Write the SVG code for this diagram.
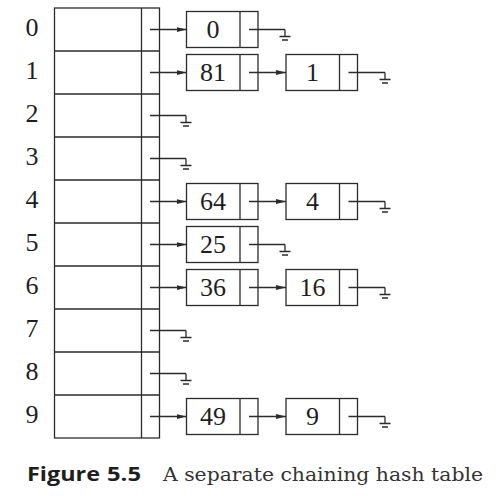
<svg xmlns="http://www.w3.org/2000/svg" xmlns:xlink="http://www.w3.org/1999/xlink" width="497" height="496" viewBox="0 0 497 496">
<style>
.ln{stroke:#2b2b2b;stroke-width:1.3;fill:none}
.bx{stroke:#2b2b2b;stroke-width:1.3;fill:#fff}
.t{font-family:"Liberation Serif","Times New Roman",serif;font-size:26px;fill:#1e1e1e;text-anchor:middle}
.cap1{font-family:"Open Sans","Liberation Sans",Arial,sans-serif;font-weight:bold;font-size:19px;fill:#1e1e1e}
.cap2{font-family:"DejaVu Serif",serif;font-size:18px;fill:#333}
</style>
<defs>
<marker id="ah" viewBox="0 0 10 6" refX="10" refY="3" markerWidth="10" markerHeight="6" markerUnits="userSpaceOnUse" orient="auto">
<path d="M0,0.5 L10,3 L0,5.5 Z" fill="#2b2b2b"/>
</marker>
<path id="gnd" d="M0,0 V7 M-5.5,7 H5.5 M-3,10.5 H3" stroke="#2b2b2b" stroke-width="1.3" fill="none"/>
</defs>

<g id="table">
<rect class="bx" x="54.5" y="8" width="105" height="430"/>
<path class="ln" d="M141.5,8 V438 M54.5,51 H159.5 M54.5,94 H159.5 M54.5,137 H159.5 M54.5,180 H159.5 M54.5,223 H159.5 M54.5,266 H159.5 M54.5,309 H159.5 M54.5,352 H159.5 M54.5,395 H159.5"/>
</g>

<g id="labels">
<text class="t" x="32" y="36">0</text>
<text class="t" x="32" y="79">1</text>
<text class="t" x="32" y="122">2</text>
<text class="t" x="32" y="165">3</text>
<text class="t" x="32" y="208">4</text>
<text class="t" x="32" y="251">5</text>
<text class="t" x="32" y="294">6</text>
<text class="t" x="32" y="337">7</text>
<text class="t" x="32" y="380">8</text>
<text class="t" x="32" y="423">9</text>
</g>

<g id="node-0">
<rect class="bx" x="186.5" y="11.5" width="71.5" height="36"/>
<path class="ln" d="M240,11.5 V47.5"/>
<text class="t" x="213" y="38">0</text>
</g>
<g id="node-81">
<rect class="bx" x="186.5" y="54.5" width="71.5" height="36"/>
<path class="ln" d="M240,54.5 V90.5"/>
<text class="t" x="213" y="81">81</text>
</g>
<g id="node-1">
<rect class="bx" x="286" y="54.5" width="71.5" height="36"/>
<path class="ln" d="M339.5,54.5 V90.5"/>
<text class="t" x="312.5" y="81">1</text>
</g>
<g id="node-64">
<rect class="bx" x="186.5" y="183.5" width="71.5" height="36"/>
<path class="ln" d="M240,183.5 V219.5"/>
<text class="t" x="213" y="210">64</text>
</g>
<g id="node-4">
<rect class="bx" x="286" y="183.5" width="71.5" height="36"/>
<path class="ln" d="M339.5,183.5 V219.5"/>
<text class="t" x="312.5" y="210">4</text>
</g>
<g id="node-25">
<rect class="bx" x="186.5" y="226.5" width="71.5" height="36"/>
<path class="ln" d="M240,226.5 V262.5"/>
<text class="t" x="213" y="253">25</text>
</g>
<g id="node-36">
<rect class="bx" x="186.5" y="269.5" width="71.5" height="36"/>
<path class="ln" d="M240,269.5 V305.5"/>
<text class="t" x="213" y="296">36</text>
</g>
<g id="node-16">
<rect class="bx" x="286" y="269.5" width="71.5" height="36"/>
<path class="ln" d="M339.5,269.5 V305.5"/>
<text class="t" x="312.5" y="296">16</text>
</g>
<g id="node-49">
<rect class="bx" x="186.5" y="398.5" width="71.5" height="36"/>
<path class="ln" d="M240,398.5 V434.5"/>
<text class="t" x="213" y="425">49</text>
</g>
<g id="node-9">
<rect class="bx" x="286" y="398.5" width="71.5" height="36"/>
<path class="ln" d="M339.5,398.5 V434.5"/>
<text class="t" x="312.5" y="425">9</text>
</g>

<g id="connectors">
<path class="ln" marker-end="url(#ah)" d="M150,29.5 H186.5"/>
<path class="ln" marker-end="url(#ah)" d="M150,72.5 H186.5"/>
<path class="ln" marker-end="url(#ah)" d="M150,201.5 H186.5"/>
<path class="ln" marker-end="url(#ah)" d="M150,244.5 H186.5"/>
<path class="ln" marker-end="url(#ah)" d="M150,287.5 H186.5"/>
<path class="ln" marker-end="url(#ah)" d="M150,416.5 H186.5"/>
<path class="ln" marker-end="url(#ah)" d="M249,72.5 H286"/>
<path class="ln" marker-end="url(#ah)" d="M249,201.5 H286"/>
<path class="ln" marker-end="url(#ah)" d="M249,287.5 H286"/>
<path class="ln" marker-end="url(#ah)" d="M249,416.5 H286"/>
<path class="ln" d="M150,115.5 H186"/><use xlink:href="#gnd" x="186" y="115.5"/>
<path class="ln" d="M150,158.5 H186"/><use xlink:href="#gnd" x="186" y="158.5"/>
<path class="ln" d="M150,330.5 H186"/><use xlink:href="#gnd" x="186" y="330.5"/>
<path class="ln" d="M150,373.5 H186"/><use xlink:href="#gnd" x="186" y="373.5"/>
<path class="ln" d="M249,29.5 H285"/><use xlink:href="#gnd" x="285" y="29.5"/>
<path class="ln" d="M249,244.5 H285"/><use xlink:href="#gnd" x="285" y="244.5"/>
<path class="ln" d="M348.5,72.5 H385"/><use xlink:href="#gnd" x="385" y="72.5"/>
<path class="ln" d="M348.5,201.5 H385"/><use xlink:href="#gnd" x="385" y="201.5"/>
<path class="ln" d="M348.5,287.5 H385"/><use xlink:href="#gnd" x="385" y="287.5"/>
<path class="ln" d="M348.5,416.5 H385"/><use xlink:href="#gnd" x="385" y="416.5"/>
</g>

<g id="caption">
<text class="cap1" x="27" y="481" textLength="73" lengthAdjust="spacingAndGlyphs">Figure</text>
<text class="cap1" x="107" y="481" textLength="34" lengthAdjust="spacingAndGlyphs">5.5</text>
<text class="cap2" x="163" y="481" textLength="320" lengthAdjust="spacingAndGlyphs">A separate chaining hash table</text>
</g>
</svg>
